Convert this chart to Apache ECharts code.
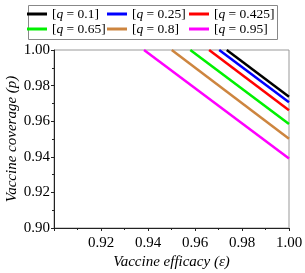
<!DOCTYPE html>
<html><head><meta charset="utf-8">
<script src="https://cdn.jsdelivr.net/npm/echarts@6/dist/echarts.min.js"></script>
<style>html,body{margin:0;padding:0;background:#fff}#c{width:305px;height:273px}</style>
</head><body><div id="c"></div>
<script>
var qValues = ['0.1', '0.25', '0.425', '0.65', '0.8', '0.95'];
var colors = ['#000000', '#0000ff', '#ff0000', '#00f000', '#cd853f', '#ff00ff'];
// efficacy at which each curve reaches full coverage (p = 1)
var startEfficacy = [0.9735, 0.9703, 0.9660, 0.9580, 0.9501, 0.9383];
// coverage required at full efficacy (eps = 1)
var endCoverage = [0.9737, 0.9707, 0.9662, 0.9584, 0.9501, 0.9390];

var serif = 'Liberation Serif';
var series = qValues.map(function (q, i) {
  return {
    name: q,
    type: 'line',
    showSymbol: false,
    symbol: 'none',
    data: [[startEfficacy[i], 1.0], [1.0, endCoverage[i]]],
    lineStyle: { color: colors[i], width: 2.5 },
    itemStyle: { color: colors[i] },
    animation: false
  };
});

var legendPos = [[27, 7], [107, 7], [189, 7], [27, 22], [107, 22], [189, 22]];
var legends = qValues.map(function (q, i) {
  return {
    left: legendPos[i][0], top: legendPos[i][1],
    padding: 0,
    itemGap: 0,
    itemWidth: 20, itemHeight: 3,
    icon: 'rect',
    data: [q],
    formatter: function (n) { return '{a|[}{q|q}{a| = ' + n + ']}'; },
    textStyle: {
      fontFamily: serif, fontSize: 13.5, color: '#000',
      rich: {
        a: { fontFamily: serif, fontSize: 13.5, color: '#000' },
        q: { fontFamily: serif, fontSize: 13.5, fontStyle: 'italic', color: '#000' }
      }
    }
  };
});

var chart = echarts.init(document.getElementById('c'));
chart.setOption({
  animation: false,
  grid: { left: 54, right: 16, top: 50, bottom: 45, containLabel: false, outerBoundsMode: 'none', show: true, borderColor: '#999', borderWidth: 1 },
  graphic: [{
    type: 'rect', left: 26, top: 3,
    shape: { width: 249, height: 34 },
    style: { fill: 'none', stroke: '#888', lineWidth: 1 },
    silent: true
  }],
  legend: legends,
  xAxis: {
    type: 'value', min: 0.9, max: 1.0, interval: 0.02,
    name: 'Vaccine efficacy (ε)', nameLocation: 'middle', nameGap: 27, nameMoveOverlap: false,
    nameTextStyle: { fontFamily: serif, fontSize: 15, fontStyle: 'italic', color: '#000' },
    axisLine: { lineStyle: { color: '#222', width: 1 } },
    axisTick: { show: true, length: 3, lineStyle: { color: '#222' } },
    minorTick: { show: true, splitNumber: 2, length: 2, lineStyle: { color: '#222' } },
    splitLine: { show: false },
    axisLabel: {
      margin: 8, fontFamily: serif, fontSize: 15, color: '#000',
      formatter: function (v) { return v <= 0.9001 ? '' : v.toFixed(2); }
    }
  },
  yAxis: {
    type: 'value', min: 0.9, max: 1.0, interval: 0.02,
    name: 'Vaccine coverage (p)', nameLocation: 'middle', nameGap: 34, nameMoveOverlap: false,
    nameTextStyle: { fontFamily: serif, fontSize: 15, fontStyle: 'italic', color: '#000' },
    axisLine: { show: true, lineStyle: { color: '#222', width: 1 } },
    axisTick: { show: true, length: 3, lineStyle: { color: '#222' } },
    minorTick: { show: true, splitNumber: 2, length: 2, lineStyle: { color: '#222' } },
    splitLine: { show: false },
    axisLabel: {
      margin: 4, fontFamily: serif, fontSize: 15, color: '#000',
      formatter: function (v) { return v.toFixed(2); }
    }
  },
  series: series
});
</script></body></html>
